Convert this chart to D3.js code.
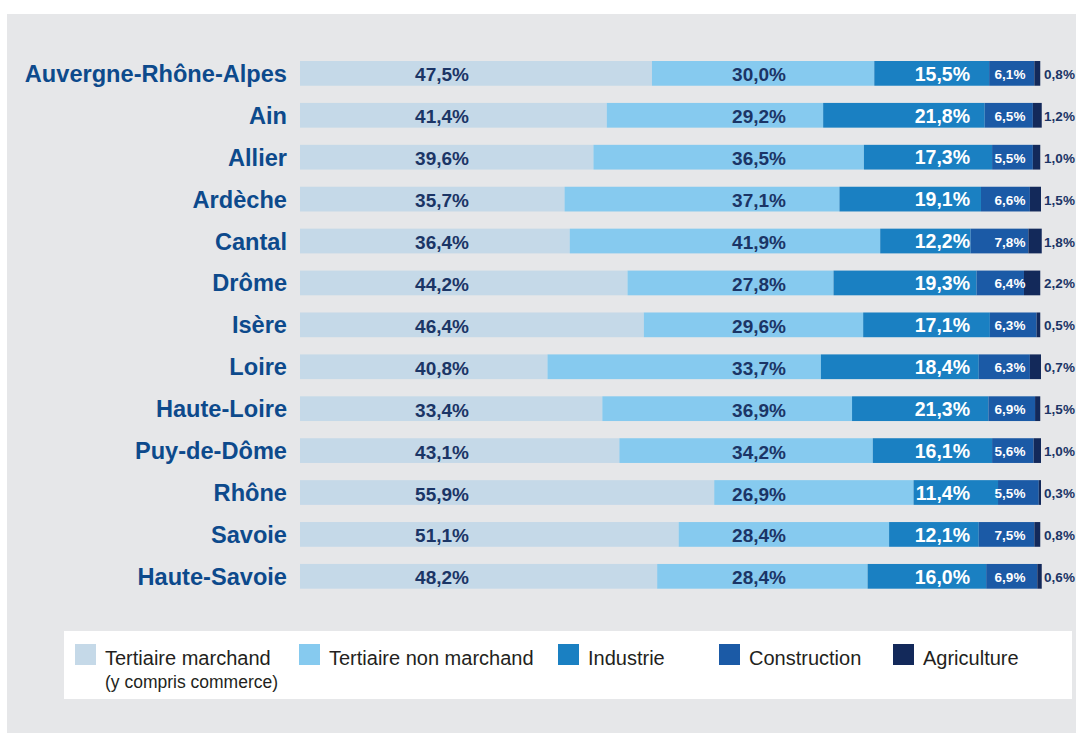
<!DOCTYPE html>
<html>
<head>
<meta charset="utf-8">
<script src="https://cdn.jsdelivr.net/npm/d3@7"></script>
<style>
  body { margin: 0; background: #ffffff; }
  #chart { width: 1076px; height: 733px; }
  text { font-family: "Liberation Sans", Arial, sans-serif; }
</style>
</head>
<body>
<div id="chart"></div>
<script>
//regions, top to bottom
var regions = ["Auvergne-Rhône-Alpes", "Ain", "Allier", "Ardèche", "Cantal", "Drôme", "Isère",
  "Loire", "Haute-Loire", "Puy-de-Dôme", "Rhône", "Savoie", "Haute-Savoie"];

//sectors (legend order)
var sectors = ["Tertiaire marchand", "Tertiaire non marchand", "Industrie", "Construction", "Agriculture"];

//share of employment per sector, in %
var tertiaireMarchand = [47.5, 41.4, 39.6, 35.7, 36.4, 44.2, 46.4, 40.8, 33.4, 43.1, 55.9, 51.1, 48.2];
var tertiaireNonMarchand = [30.0, 29.2, 36.5, 37.1, 41.9, 27.8, 29.6, 33.7, 36.9, 34.2, 26.9, 28.4, 28.4];
var industrie = [15.5, 21.8, 17.3, 19.1, 12.2, 19.3, 17.1, 18.4, 21.3, 16.1, 11.4, 12.1, 16.0];
var construction = [6.1, 6.5, 5.5, 6.6, 7.8, 6.4, 6.3, 6.3, 6.9, 5.6, 5.5, 7.5, 6.9];
var agriculture = [0.8, 1.2, 1.0, 1.5, 1.8, 2.2, 0.5, 0.7, 1.5, 1.0, 0.3, 0.8, 0.6];

//in the source chart the Loire and Haute-Loire bars sit in each other's row
var barRow = ["Auvergne-Rhône-Alpes", "Ain", "Allier", "Ardèche", "Cantal", "Drôme", "Isère",
  "Haute-Loire", "Loire", "Puy-de-Dôme", "Rhône", "Savoie", "Haute-Savoie"];

//constructor
function SectorChart(_parent) {
  var vis = this;
  vis.parent = _parent;
  vis.series = [tertiaireMarchand, tertiaireNonMarchand, industrie, construction, agriculture];
  vis.colors = ["#c5d9e8", "#86caef", "#1a80c2", "#1b5aa6", "#13295a"];
  vis.init();
}

//function init
SectorChart.prototype.init = function() {
  var vis = this;
  vis.width = 1076;
  vis.height = 733;

  vis.svg = d3.select(vis.parent).append("svg")
    .attr("width", vis.width)
    .attr("height", vis.height);

  //grey panel
  vis.svg.append("rect")
    .attr("x", 7)
    .attr("y", 14)
    .attr("width", vis.width - 7)
    .attr("height", vis.height - 14)
    .style("fill", "#e6e7e9");

  //scales
  vis.x = d3.scaleLinear().domain([0, 100]).range([300, 1041]);
  vis.y = d3.scaleBand().domain(regions).range([61, 588.7]).paddingInner(0.41).paddingOuter(0);

  //stack the sector arrays
  var rows = regions.map(function(r, i) {
    var row = { region: r, bar: barRow[i] };
    sectors.forEach(function(s, j) { row[s] = vis.series[j][i]; });
    return row;
  });
  vis.stacked = d3.stack().keys(sectors)(rows);

  vis.update();
  vis.drawLegend();
};

//function update
SectorChart.prototype.update = function() {
  var vis = this;

  //segments
  vis.svg.selectAll("g.layer")
    .data(vis.stacked)
    .enter().append("g")
    .attr("class", "layer")
    .style("fill", function(d, i) { return vis.colors[i]; })
    .selectAll("rect")
    .data(function(d) { return d; })
    .enter().append("rect")
    .attr("x", function(d) { return vis.x(d[0]); })
    .attr("y", function(d) { return vis.y(d.data.bar); })
    .attr("width", function(d) { return vis.x(d[1]) - vis.x(d[0]); })
    .attr("height", vis.y.bandwidth());

  //region names
  vis.svg.selectAll("text.region")
    .data(regions)
    .enter().append("text")
    .attr("class", "region")
    .text(function(d) { return d; })
    .attr("x", 287)
    .attr("y", function(d) { return vis.y(d) + vis.y.bandwidth() / 2 + 8.5; })
    .style("fill", "#0d4a8c")
    .style("text-anchor", "end")
    .style("font-weight", "bold")
    .style("font-size", "23.6px");

  //value labels sit in fixed columns
  var columns = [
    { x: 442, anchor: "middle", size: 19, color: "#1b3566", dy: 8 },
    { x: 759, anchor: "middle", size: 19, color: "#1b3566", dy: 8 },
    { x: 970, anchor: "end", size: 19.5, color: "#ffffff", dy: 7.3 },
    { x: 1010, anchor: "middle", size: 13.5, color: "#ffffff", dy: 5.5 },
    { x: 1059.5, anchor: "middle", size: 13.5, color: "#1b3566", dy: 5.5 }
  ];
  var fmt = function(v) { return d3.format(".1f")(v).replace(".", ",") + "%"; };

  columns.forEach(function(c, j) {
    vis.svg.selectAll("text.val" + j)
      .data(vis.series[j])
      .enter().append("text")
      .attr("class", "val" + j)
      .text(function(d) { return fmt(d); })
      .attr("x", c.x)
      .attr("y", function(d, i) { return vis.y(regions[i]) + vis.y.bandwidth() / 2 + c.dy; })
      .style("fill", c.color)
      .style("text-anchor", c.anchor)
      .style("font-weight", "bold")
      .style("font-size", c.size + "px");
  });
};

//function draw legend
SectorChart.prototype.drawLegend = function() {
  var vis = this;
  vis.svg.append("rect")
    .attr("x", 64)
    .attr("y", 631)
    .attr("width", 1008)
    .attr("height", 68)
    .style("fill", "#ffffff");

  var itemX = [75, 299, 558, 719, 893];
  var items = vis.svg.selectAll("g.item")
    .data(sectors)
    .enter().append("g")
    .attr("class", "item")
    .attr("transform", function(d, i) { return "translate(" + itemX[i] + ",644)"; });

  items.append("rect")
    .attr("width", 21)
    .attr("height", 21)
    .style("fill", function(d, i) { return vis.colors[i]; });

  items.append("text")
    .text(function(d) { return d; })
    .attr("x", 30)
    .attr("y", 21)
    .style("fill", "#231f20")
    .style("font-size", "20px");

  //second line of first item
  vis.svg.append("text")
    .text("(y compris commerce)")
    .attr("x", 105)
    .attr("y", 688)
    .style("fill", "#231f20")
    .style("font-size", "17.5px");
};

var chart = new SectorChart("#chart");
</script>
</body>
</html>
